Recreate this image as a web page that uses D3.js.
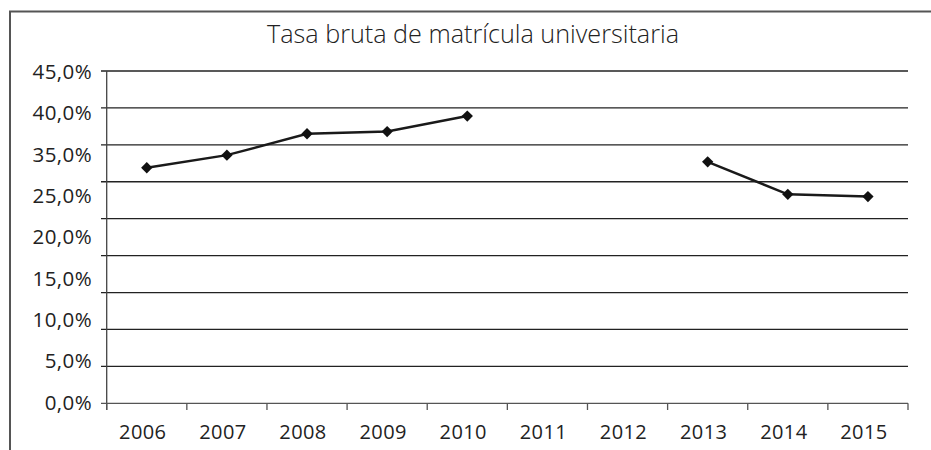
<!DOCTYPE html>
<head>
	<meta charset="utf-8">
	<script src="https://d3js.org/d3.v7.min.js"></script>
	<style>
		body { margin: 0; background: #fff; }
		text { font-family: "Open Sans", sans-serif; fill: #222; }
	</style>
</head>
<body>
<svg width="931" height="450"></svg>
<script>
	var years = ['2006', '2007', '2008', '2009', '2010', '2011', '2012', '2013', '2014', '2015'];
	// null = no value (gap in the line)
	var tasa = [31.9, 33.6, 36.5, 36.8, 38.9, null, null, 32.7, 28.3, 28.0];
	var gridValues = [0, 5, 10, 15, 20, 25, 30, 35, 40, 45];
	// tick labels as printed on the source chart (30 is missing there)
	var yLabels = ['0,0%', '5,0%', '10,0%', '15,0%', '20,0%', '25,0%', '35,0%', '40,0%', '45,0%'];
	var title = 'Tasa bruta de matrícula universitaria';

	var svg = d3.select('svg');

	// frame
	svg.append('path')
		.attr('d', 'M10,450V11.5H931')
		.attr('fill', 'none')
		.attr('stroke', '#555')
		.attr('stroke-width', 2);

	svg.append('text')
		.attr('x', 473)
		.attr('y', 43)
		.attr('text-anchor', 'middle')
		.attr('font-size', 25)
		.attr('font-weight', 300)
		.attr('textLength', 412)
		.attr('lengthAdjust', 'spacingAndGlyphs')
		.text(title);

	var x = d3.scaleBand().domain(years).range([106.7, 908]);
	var y = d3.scaleLinear().domain([0, 45]).range([403.3, 71]);
	var yl = d3.scalePoint().domain(yLabels).range([402.3, 71.7]);

	/* ----------- gridlines ----------- */
	svg.append('g').selectAll('line.grid').data(gridValues.filter(function (d) { return d > 0; }))
		.enter()
		.append('line')
		.attr('class', 'grid')
		.attr('x1', 101)
		.attr('x2', 908)
		.attr('y1', function (d) { return y(d); })
		.attr('y2', function (d) { return y(d); })
		.attr('stroke', '#222')
		.attr('stroke-width', 1.3);

	/* ----------- y labels ----------- */
	svg.append('g').selectAll('text.ylab').data(yLabels)
		.enter()
		.append('text')
		.attr('class', 'ylab')
		.attr('x', 92)
		.attr('y', function (d) { return yl(d); })
		.attr('dy', '0.36em')
		.attr('text-anchor', 'end')
		.attr('font-size', 20.5)
		.attr('letter-spacing', 0.4)
		.text(function (d) { return d; });

	/* ----------- axes ----------- */
	svg.append('line')
		.attr('x1', 106.7).attr('x2', 106.7)
		.attr('y1', 71).attr('y2', 410)
		.attr('stroke', '#444').attr('stroke-width', 1.3);

	svg.append('line')
		.attr('x1', 101).attr('x2', 908)
		.attr('y1', 403.3).attr('y2', 403.3)
		.attr('stroke', '#555').attr('stroke-width', 1.3);

	var tickPos = years.map(function (d) { return x(d); }).concat([x.range()[1]]);
	svg.append('g').selectAll('line.xtick').data(tickPos)
		.enter()
		.append('line')
		.attr('class', 'xtick')
		.attr('x1', function (d) { return d; })
		.attr('x2', function (d) { return d; })
		.attr('y1', 403.3)
		.attr('y2', 410)
		.attr('stroke', '#555')
		.attr('stroke-width', 1.3);

	svg.append('g').selectAll('text.xlab').data(years)
		.enter()
		.append('text')
		.attr('class', 'xlab')
		.attr('x', function (d) { return x(d) + x.bandwidth() / 2 - 4; })
		.attr('y', 439)
		.attr('text-anchor', 'middle')
		.attr('font-size', 20)
		.attr('letter-spacing', 0.4)
		.text(function (d) { return d; });

	/* ----------- series ----------- */
	var pts = years.map(function (d, i) { return {year: d, v: tasa[i]}; });
	var line = d3.line()
		.defined(function (d) { return d.v != null; })
		.x(function (d) { return x(d.year) + x.bandwidth() / 2; })
		.y(function (d) { return y(d.v); });

	svg.append('path')
		.datum(pts)
		.attr('d', line)
		.attr('fill', 'none')
		.attr('stroke', '#1a1a1a')
		.attr('stroke-width', 2.4);

	svg.append('g').selectAll('path.marker').data(pts.filter(function (d) { return d.v != null; }))
		.enter()
		.append('path')
		.attr('class', 'marker')
		.attr('d', d3.symbol(d3.symbolSquare, 64))
		.attr('transform', function (d) {
			return 'translate(' + (x(d.year) + x.bandwidth() / 2) + ',' + y(d.v) + ') rotate(45)';
		})
		.attr('fill', '#111');
</script>
</body>
